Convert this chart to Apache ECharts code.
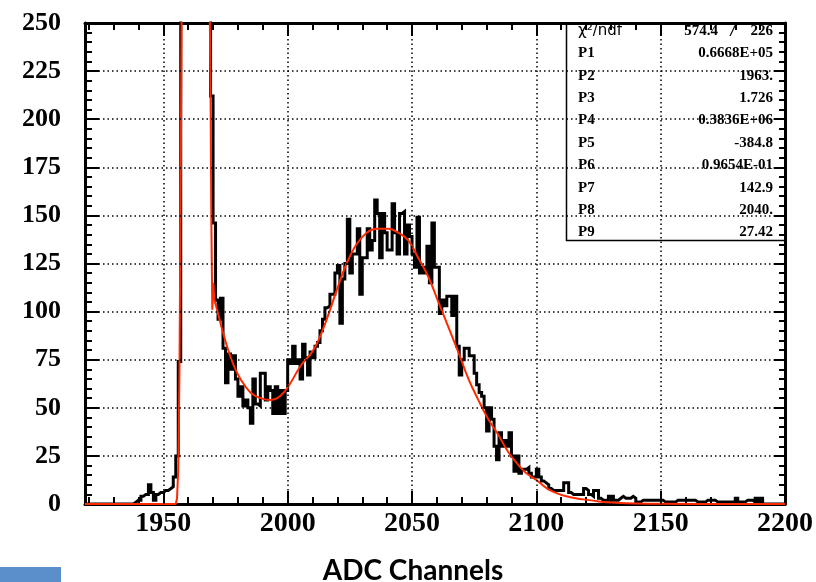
<!DOCTYPE html>
<html>
<head>
<meta charset="utf-8">
<script src="https://cdn.jsdelivr.net/npm/echarts@6/dist/echarts.min.js"></script>
<style>
  html, body { margin: 0; padding: 0; background: #fff; }
  #chart { width: 816px; height: 582px; }
</style>
</head>
<body>
<div id="chart"></div>
<script>
// histogram: one bin per ADC channel, first bin starts at firstChannel
var firstChannel = 1919
var counts = [
  0, 0, 0, 0, 0, 0, 0, 0, 0, 0, 0, 0, 0, 0, 0, 0, 0, 0, 0,            // 1919-1937
  1, 2, 2, 4, 5, 5, 10, 6, 2, 5, 6, 6, 7, 7, 8, 9, 14, 25, 74,        // 1938-1956
  380, 1500, 5200, 14000, 30000, 50000, 65000, 60000, 42000, 22000, 8500, 2400, // 1957-1968 (off scale)
  212, 146, 106, 96, 107, 81, 63, 78, 70, 77, 65, 56, 61, 51, 54, 50, // 1969-1984
  42, 65, 52, 51, 68, 68, 54, 61, 59, 47, 61, 47, 59, 47, 59,         // 1985-1999
  75, 73, 82, 73, 75, 65, 83, 76, 67, 79, 76, 82, 84, 90, 96, 102,    // 2000-2015
  103, 109, 109, 120, 124, 94, 117, 125, 148, 120, 130, 130, 143, 109, 128, 128, // 2016-2031
  143, 132, 137, 158, 151, 128, 151, 141, 132, 132, 156, 141, 130, 151, 152, 130, // 2032-2047
  145, 139, 130, 123, 149, 120, 123, 120, 134, 115, 146, 123, 123, 99, 106, 103,  // 2048-2063
  108, 108, 98, 108, 82, 67, 75, 81, 81, 77, 77, 68, 62, 58, 56, 50,  // 2064-2079
  38, 50, 44, 30, 23, 37, 30, 33, 30, 37, 25, 17, 25, 16,             // 2080-2093
  18, 18, 19, 16, 14, 14, 18, 14, 12, 11, 10, 8, 7, 7, 7, 7, 7,       // 2094-2110
  11, 11, 6, 5, 5, 5, 5, 5, 8, 7, 5, 4, 7, 7, 3, 2, 2, 2, 4, 4,       // 2111-2130
  2, 2, 3, 4, 3, 3, 3, 4, 3, 1, 1, 2, 2, 2, 2, 2, 2, 2, 2,            // 2131-2149
  2, 1, 1, 1, 1, 1, 2, 2, 2, 2, 2, 2, 2, 2, 1, 1, 1, 1, 2, 2,         // 2150-2169
  2, 2, 1, 1, 1, 1, 1, 1, 1, 1, 3, 1, 1, 1, 2, 2, 2, 1, 3, 1,         // 2170-2189
  3, 0, 0, 0, 0, 0, 0, 0, 0, 0                                        // 2190-2199
]

// red fit curve: the narrow peak and the smooth part
var fitPeak = [
  [1918.5, 0], [1955, 0], [1955.5, 3], [1956, 18], [1956.5, 70], [1957, 170],
  [1957.4, 265], [1963, 66680], [1968.6, 265], [1969, 212], [1969.3, 148],
  [1969.7, 101], [1970.1, 115], [1970.5, 106]
]
var fitBody = [
  [1970.5, 106], [1971.6, 101], [1973.6, 91], [1975.6, 82], [1978.3, 72], [1981, 65],
  [1985, 58], [1989.1, 55], [1993.1, 54], [1995.8, 55], [1998.5, 58], [2001.2, 63],
  [2005.3, 72], [2009.3, 78], [2012, 84], [2015.7, 96], [2019.7, 111], [2023.7, 125],
  [2027.7, 135], [2031.8, 141], [2035.8, 143], [2040.5, 143], [2044.5, 141],
  [2048.5, 137], [2052.5, 128], [2056.6, 118], [2060.6, 105], [2064.6, 92],
  [2068.6, 79], [2072.7, 65], [2076.7, 54], [2080.7, 44], [2084.7, 36], [2088.7, 27],
  [2093, 20], [2096, 16], [2100, 12.5], [2105, 7.5], [2112, 4], [2119, 2.4],
  [2126, 1.2], [2132, 0.7], [2140, 0.3], [2150, 0.1], [2200, 0]
]

var xMin = 1918.5
var xMax = 2200
var xLabels = [1950, 2000, 2050, 2100, 2150, 2200]
var xMinorTicks = [1920, 1930, 1940, 1960, 1970, 1980, 1990, 2010, 2020, 2030, 2040,
  2060, 2070, 2080, 2090, 2110, 2120, 2130, 2140, 2160, 2170, 2180, 2190]
var xGrid = [1950, 2000, 2050, 2100, 2150]
var yGrid = [25, 50, 75, 100, 125, 150, 175, 200, 225]

var statNames = ['P1', 'P2', 'P3', 'P4', 'P5', 'P6', 'P7', 'P8', 'P9']
var statValues = ['0.6668E+05', '1963.', '1.726', '0.3836E+06', '-384.8', '0.9654E-01', '142.9', '2040.', '27.42']

var histData = counts.map(function (c, i) { return [firstChannel + i, c] })
histData.push([xMax, counts[counts.length - 1]])

var serif = '"Liberation Serif", "Times New Roman", serif'

function xAxisDef(pos, ticks, len, withLine, withLabel) {
  return {
    type: 'value', min: xMin, max: xMax, position: pos,
    axisLine: { show: withLine, onZero: false, lineStyle: { color: '#000', width: 3 } },
    axisTick: { show: true, inside: true, length: len, customValues: ticks, lineStyle: { color: '#000', width: 2 } },
    axisLabel: withLabel ? {
      customValues: xLabels, margin: 6, color: '#000', fontFamily: serif, fontWeight: 'bold', fontSize: 28,
      formatter: function (v) { return String(v) }
    } : { show: false },
    splitLine: { show: false }
  }
}
function yAxisDef(pos, step, len, withLine, withLabel) {
  return {
    type: 'value', min: 0, max: 250, interval: step, position: pos,
    axisLine: { show: withLine, onZero: false, lineStyle: { color: '#000', width: 3 } },
    axisTick: { show: true, inside: true, length: len, lineStyle: { color: '#000', width: 2 } },
    axisLabel: withLabel ? {
      margin: 24, color: '#000', fontFamily: serif, fontWeight: 'bold', fontSize: 26
    } : { show: false },
    splitLine: { show: false }
  }
}

function boxText(str, x, y, font, align) {
  return { type: 'text', x: x, y: y, z: 10,
    style: { text: str, font: font, fill: '#000',
      align: align, verticalAlign: 'middle', textAlign: align, textVerticalAlign: 'middle' } }
}

var rowTop = 31
var rowStep = 22.4
var statFont = 'bold 15px ' + serif
var graphics = [
  { type: 'rect', shape: { x: 566.5, y: 23, width: 219, height: 217.5 },
    style: { fill: 'none', stroke: '#000', lineWidth: 1.5 }, z: 10 },
  boxText('χ²/ndf', 578, rowTop, '15px "DejaVu Sans", sans-serif', 'left'),
  boxText('574.4', 718, rowTop, statFont, 'right'),
  boxText('/', 733, rowTop, 'italic 15px "DejaVu Sans", sans-serif', 'center'),
  boxText('226', 773, rowTop, statFont, 'right'),
  { type: 'rect', shape: { x: 0, y: 567, width: 61, height: 15 }, style: { fill: '#5b8fcb' } },
  boxText('ADC Channels', 413, 571, 'bold 28px Lato, "Open Sans", sans-serif', 'center')
]
statNames.forEach(function (name, i) {
  var y = rowTop + (i + 1) * rowStep
  graphics.push(boxText(name, 578, y, statFont, 'left'))
  graphics.push(boxText(statValues[i], 773, y, statFont, 'right'))
})

var dotted = { color: '#000', width: 1.5, type: [1.5, 3] }

var chart = echarts.init(document.getElementById('chart'))
chart.setOption({
  animation: false,
  backgroundColor: '#fff',
  grid: { left: 85, right: 31, top: 23, bottom: 78 },
  xAxis: [
    xAxisDef('bottom', xLabels, 13, true, true),
    xAxisDef('bottom', xMinorTicks, 7, false, false),
    xAxisDef('top', xLabels, 13, true, false),
    xAxisDef('top', xMinorTicks, 7, false, false)
  ],
  yAxis: [
    yAxisDef('left', 25, 14, true, true),
    yAxisDef('left', 5, 7, false, false),
    yAxisDef('right', 25, 11, true, false),
    yAxisDef('right', 5, 6, false, false)
  ],
  series: [
    {
      // dotted grid
      type: 'line', xAxisIndex: 0, yAxisIndex: 0, z: 1, silent: true,
      data: [[xMin, 0]], showSymbol: false, lineStyle: { opacity: 0 },
      markLine: {
        silent: true, symbol: 'none', label: { show: false }, lineStyle: dotted,
        data: xGrid.map(function (v) { return { xAxis: v } })
          .concat(yGrid.map(function (v) { return { yAxis: v } }))
      }
    },
    {
      name: 'counts', type: 'line', step: 'end', xAxisIndex: 0, yAxisIndex: 0, z: 3,
      data: histData, showSymbol: false, clip: true,
      lineStyle: { color: '#000', width: 3, join: 'miter' }
    },
    {
      name: 'fit', type: 'line', xAxisIndex: 0, yAxisIndex: 0, z: 4,
      data: fitPeak, showSymbol: false, clip: true,
      lineStyle: { color: '#ff2a00', width: 2 }
    },
    {
      name: 'fit', type: 'line', xAxisIndex: 0, yAxisIndex: 0, z: 4,
      data: fitBody, showSymbol: false, clip: true, smooth: 0.4,
      lineStyle: { color: '#ff2a00', width: 2 }
    }
  ],
  graphic: graphics
})
</script>
</body>
</html>
